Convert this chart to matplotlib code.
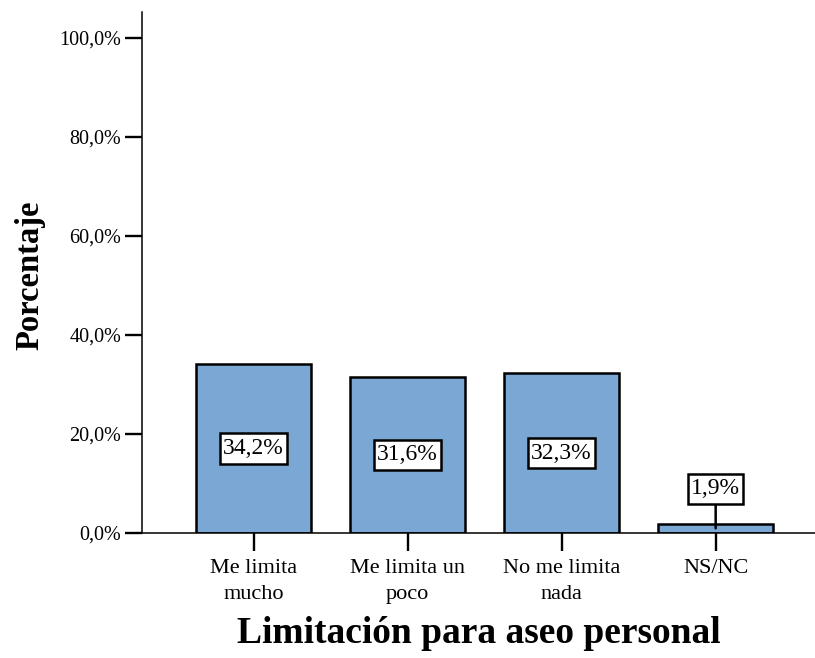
import numpy as np
import matplotlib
matplotlib.use('Agg')
import matplotlib.pyplot as plt
from matplotlib.path import Path

# datos
categorias = ['Me limita\nmucho', 'Me limita un\npoco', 'No me limita\nnada', 'NS/NC']
porcentajes = [34.2, 31.6, 32.3, 1.9]
yticks = [0, 20, 40, 60, 80, 100]

plt.rcParams['font.family'] = ['Liberation Serif', 'DejaVu Serif']


def caja_label(x0, y0, width, height, mutation_size):
    # caja rectangular con mas margen vertical que horizontal
    px = 0.13 * mutation_size
    py = 0.2 * mutation_size
    x0, y0 = x0 - px, y0 - py
    x1, y1 = x0 + width + 2 * px, y0 + height + 2 * py
    return Path([(x0, y0), (x1, y0), (x1, y1), (x0, y1), (x0, y0)], closed=True)


fig = plt.figure(figsize=(8.15, 6.58), dpi=100)
ax = fig.add_axes([142/815, 1-533/658, 1-142/815, (533-12)/658])

x = np.arange(len(categorias))
ax.bar(x, porcentajes, width=0.75, color='#7ba7d4', edgecolor='black', linewidth=1.8, zorder=2)

ax.set_xlim(-0.725, 3.645)
ax.set_ylim(0, 105.2)

ax.set_yticks(yticks)
ax.set_yticklabels(['%d,0%%' % v for v in yticks])
ax.set_xticks(x)
ax.set_xticklabels(categorias, linespacing=1.45)
ax.tick_params(axis='y', length=12, width=1.7, pad=3, labelsize=14.5)
ax.tick_params(axis='x', length=13, width=1.7, pad=6, labelsize=16)

for s in ['top', 'right']:
    ax.spines[s].set_visible(False)
ax.spines['left'].set_linewidth(1.1)
ax.spines['bottom'].set_linewidth(1.1)

# etiquetas de valor
for xi, v in zip(x, porcentajes):
    txt = ('%.1f%%' % v).replace('.', ',')
    caja = dict(boxstyle=caja_label, fc='white', ec='black', lw=1.8)
    if v > 5:
        ax.text(xi, v / 2, txt, ha='center', va='center', fontsize=17, bbox=caja, zorder=4)
    else:
        ax.annotate(txt, xy=(xi, v / 2), xytext=(xi, v + 7), ha='center', va='center',
                    fontsize=17, bbox=caja, zorder=4,
                    arrowprops=dict(arrowstyle='-', color='black', lw=1.8,
                                    shrinkA=0, shrinkB=0))

fig.text(30/815, 1-275/658, 'Porcentaje', rotation=90, ha='center', va='center',
         fontsize=23.5, fontweight='bold')
fig.text(479/815, 1-643/658, 'Limitación para aseo personal', ha='center', va='baseline',
         fontsize=27, fontweight='bold')

fig.savefig('out.png', dpi=100)
